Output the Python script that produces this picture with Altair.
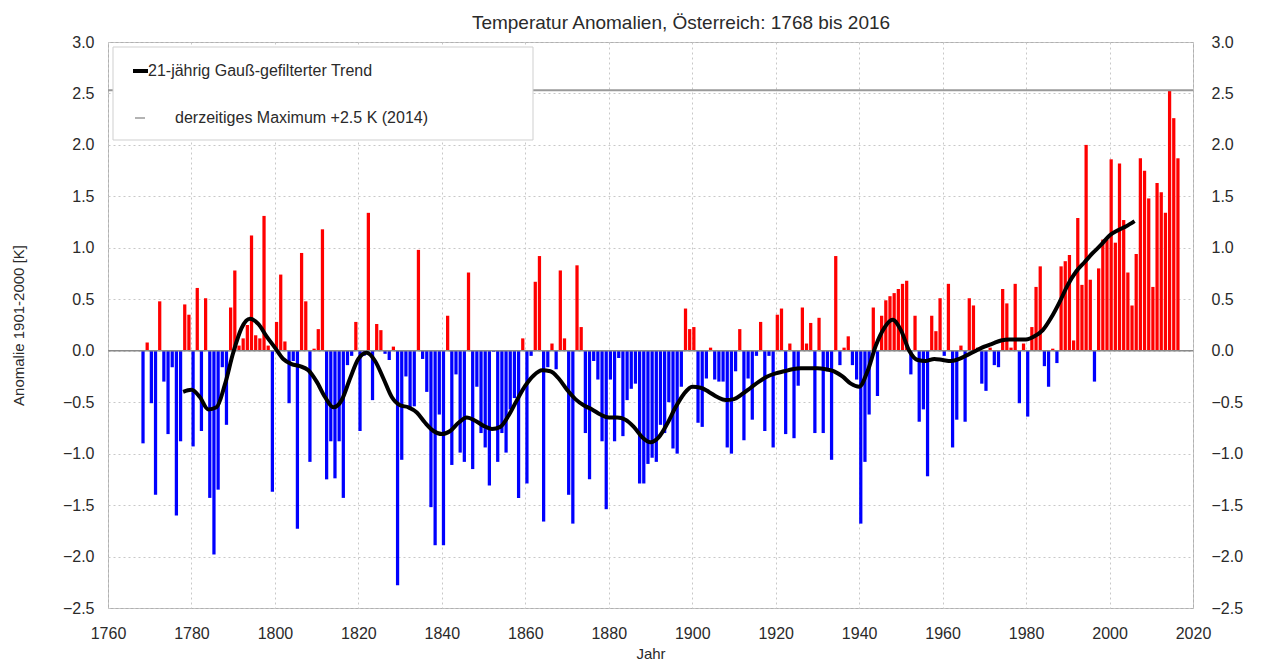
import altair as alt
import pandas as pd

# ---------------- data ----------------
years = list(range(1768, 2017))
anomaly = [
    -0.90, 0.08, -0.51, -1.40, 0.48, -0.30, -0.81, -0.16, -1.60, -0.88,   # 1768-1777
    0.45, 0.35, -0.93, 0.61, -0.78, 0.51, -1.43, -1.98, -1.35, -0.16,     # 1778-1787
    -0.72, 0.42, 0.78, 0.05, 0.12, 0.25, 1.12, 0.15, 0.12, 1.31,          # 1788-1797
    0.05, -1.37, 0.28, 0.74, 0.09, -0.51, -0.10, -1.73, 0.95, 0.48,       # 1798-1807
    -1.08, 0.02, 0.21, 1.18, -1.25, -0.88, -1.24, -0.88, -1.43, -0.14,    # 1808-1817
    -0.05, 0.28, -0.78, -0.05, 1.34, -0.48, 0.26, 0.20, -0.03, -0.09,     # 1818-1827
    0.04, -2.28, -1.06, -0.25, -0.57, -0.54, 0.98, -0.08, -0.40, -1.52,   # 1828-1837
    -1.89, -0.62, -1.89, 0.34, -1.11, -0.23, -0.99, -1.08, 0.76, -1.15,   # 1838-1847
    -0.35, -0.80, -0.94, -1.31, -0.01, -1.08, -0.80, -0.99, -0.57, -0.46, # 1848-1857
    -1.43, 0.12, -1.29, -0.05, 0.67, 0.92, -1.66, -0.16, 0.07, -0.18,     # 1858-1867
    0.78, 0.12, -1.40, -1.68, 0.83, 0.23, -0.80, -1.25, -0.10, -0.28,     # 1868-1877
    -0.88, -1.54, -0.28, -0.88, -0.07, -0.83, -0.48, -0.37, -0.32, -1.29, # 1878-1887
    -1.29, -1.10, -1.04, -1.08, -0.72, -0.80, -0.50, -0.95, -1.00, -0.35, # 1888-1897
    0.41, 0.21, 0.23, -0.70, -0.74, -0.27, 0.03, -0.28, -0.30, -0.30,     # 1898-1907
    -0.94, -1.00, -0.20, 0.21, -0.87, -0.27, -0.67, -0.05, 0.28, -0.78,   # 1908-1917
    -0.05, -0.94, 0.35, 0.41, -0.81, 0.07, -0.85, -0.34, 0.42, 0.07,      # 1918-1927
    0.27, -0.80, 0.32, -0.80, -0.20, -1.06, 0.92, -0.14, 0.03, 0.14,      # 1928-1937
    -0.14, -0.28, -1.68, -1.08, -0.62, 0.42, -0.44, 0.34, 0.49, 0.53,     # 1938-1947
    0.56, 0.60, 0.65, 0.68, -0.23, 0.34, -0.69, -0.57, -1.22, 0.34,       # 1948-1957
    0.19, 0.51, -0.05, 0.65, -0.94, -0.67, 0.05, -0.69, 0.51, 0.44,       # 1958-1967
    0.03, -0.32, -0.39, 0.03, -0.14, -0.16, 0.60, 0.46, 0.03, 0.65,       # 1968-1977
    -0.51, 0.07, -0.64, 0.23, 0.62, 0.82, -0.15, -0.35, 0.02, -0.12,      # 1978-1987
    0.82, 0.87, 0.93, 0.10, 1.29, 0.64, 2.00, 0.69, -0.30, 0.80,          # 1988-1997
    1.08, 1.08, 1.86, 1.05, 1.82, 1.27, 0.76, 0.44, 0.94, 1.87,           # 1998-2007
    1.75, 1.48, 0.62, 1.63, 1.54, 1.34, 2.53, 2.26, 1.87,                 # 2008-2016
]

trend_years = list(range(1778, 2007, 2))
trend_values = [
    -0.40, -0.38, -0.45, -0.57, -0.55, -0.33, -0.02, 0.22, 0.31, 0.26,    # 1778-1796
    0.14, 0.03, -0.08, -0.13, -0.15, -0.19, -0.30, -0.45, -0.55, -0.48,   # 1798-1816
    -0.27, -0.08, -0.02, -0.10, -0.27, -0.45, -0.53, -0.55, -0.60, -0.70, # 1818-1836
    -0.78, -0.81, -0.78, -0.70, -0.65, -0.68, -0.73, -0.76, -0.74, -0.63, # 1838-1856
    -0.48, -0.34, -0.24, -0.19, -0.20, -0.27, -0.38, -0.47, -0.53, -0.57, # 1858-1876
    -0.62, -0.65, -0.65, -0.67, -0.74, -0.84, -0.89, -0.84, -0.71, -0.55, # 1878-1896
    -0.42, -0.35, -0.36, -0.40, -0.45, -0.48, -0.47, -0.42, -0.36, -0.30, # 1898-1916
    -0.25, -0.22, -0.20, -0.18, -0.17, -0.17, -0.17, -0.18, -0.20, -0.25, # 1918-1936
    -0.32, -0.35, -0.20, 0.05, 0.22, 0.30, 0.20, 0.00, -0.09, -0.10,      # 1938-1956
    -0.08, -0.09, -0.10, -0.08, -0.04, 0.00, 0.04, 0.07, 0.10, 0.11,      # 1958-1976
    0.11, 0.11, 0.14, 0.20, 0.32, 0.47, 0.64, 0.77, 0.86, 0.95,           # 1978-1996
    1.03, 1.12, 1.17, 1.21, 1.26,                                         # 1998-2006
]

max_value = 2.53
x_ticks = list(range(1760, 2021, 20))
y_ticks = [-2.5, -2.0, -1.5, -1.0, -0.5, 0.0, 0.5, 1.0, 1.5, 2.0, 2.5, 3.0]

title_text = "Temperatur Anomalien, Österreich: 1768 bis 2016"
legend_labels = ["21-jährig Gauß-gefilterter Trend", "derzeitiges Maximum +2.5 K (2014)"]

# ---------------- frames ----------------
df = pd.DataFrame({"Jahr": years, "Anomalie": anomaly})
tr = pd.DataFrame({"Jahr": trend_years, "Trend": trend_values})
one = pd.DataFrame({"k": [0]})

W, H = 1085, 566
FONT = "Liberation Sans"
TXT = "#2a2a2a"

xscale = alt.Scale(domain=[1760, 2020], nice=False, zero=False)
yscale = alt.Scale(domain=[-2.5, 3.0], nice=False, zero=False)

x_axis = alt.Axis(values=x_ticks, format="d", title="Jahr", grid=True,
                  gridColor="#c8c8c8", gridDash=[2, 3], ticks=False, domain=False,
                  labelFontSize=16, labelFont=FONT, labelColor=TXT, labelPadding=17,
                  titleFontSize=15, titleFont=FONT, titleColor=TXT, titleFontWeight="normal",
                  titlePadding=5, labelFlush=False)

bars = alt.Chart(df).transform_calculate(
    Ende="datum.Jahr + 0.78",
    Vorzeichen="datum.Anomalie >= 0 ? 'pos' : 'neg'",
).mark_bar(strokeWidth=0).encode(
    x=alt.X("Jahr:Q", scale=xscale, axis=x_axis),
    x2="Ende:Q",
    y=alt.Y("Anomalie:Q", scale=yscale,
            axis=alt.Axis(orient="left", values=y_ticks, format=".1f",
                          title="Anomalie 1901-2000 [K]", grid=True,
                          gridColor="#c8c8c8", gridDash=[2, 3], ticks=False, domain=False,
                          labelFontSize=16, labelFont=FONT, labelColor=TXT, labelPadding=14,
                          titleFontSize=15, titleFont=FONT, titleColor=TXT,
                          titleFontWeight="normal", titlePadding=36, labelFlush=False)),
    y2=alt.datum(0),
    color=alt.Color("Vorzeichen:N", scale=alt.Scale(domain=["pos", "neg"],
                                                     range=["#ff0000", "#0000ff"]), legend=None),
)

zero = alt.Chart(pd.DataFrame({"v": [0.0]})).mark_rule(color="#8a8a8a", strokeWidth=1.5).encode(
    y=alt.Y("v:Q", scale=yscale,
            axis=alt.Axis(orient="right", values=y_ticks, format=".1f", title=None,
                          grid=False, ticks=False, domain=False, labelFontSize=16,
                          labelFont=FONT, labelColor=TXT, labelPadding=18, labelFlush=False)),
)

maxline = alt.Chart(pd.DataFrame({"v": [max_value]})).mark_rule(color="#9a9a9a", strokeWidth=2).encode(
    y=alt.Y("v:Q", scale=yscale, axis=None),
)

trend = alt.Chart(tr).mark_line(color="black", strokeWidth=4, interpolate="monotone").encode(
    x=alt.X("Jahr:Q", scale=xscale, axis=x_axis),
    y=alt.Y("Trend:Q", scale=yscale, axis=None),
)

legend_box = alt.Chart(one).mark_rect(fill="white", stroke="#cfcfcf", strokeWidth=1).encode(
    x=alt.value(5), x2=alt.value(425), y=alt.value(5), y2=alt.value(98))
leg_line1 = alt.Chart(one).mark_rule(color="black", strokeWidth=4).encode(
    x=alt.value(25), x2=alt.value(40), y=alt.value(29))
leg_line2 = alt.Chart(one).mark_rule(color="#9a9a9a", strokeWidth=1.5).encode(
    x=alt.value(27), x2=alt.value(37), y=alt.value(76))
leg_text1 = alt.Chart(one).mark_text(align="left", baseline="middle", fontSize=16, font=FONT,
                                     color=TXT, text=legend_labels[0]).encode(
    x=alt.value(40), y=alt.value(29))
leg_text2 = alt.Chart(one).mark_text(align="left", baseline="middle", fontSize=16, font=FONT,
                                     color=TXT, text=legend_labels[1]).encode(
    x=alt.value(67), y=alt.value(76))

title = alt.Chart(one).mark_text(align="center", baseline="middle", fontSize=19, font=FONT,
                                 color=TXT, text=title_text).encode(
    x=alt.value(573), y=alt.value(-19))

chart = alt.layer(
    bars, zero, maxline, trend, legend_box, leg_line1, leg_line2, leg_text1, leg_text2, title
).resolve_scale(y="independent").properties(
    width=W, height=H,
    autosize=alt.AutoSizeParams(type="none"),
    padding={"left": 100, "top": 34, "right": 60, "bottom": 62},
).configure_view(stroke="#b0b0b0", strokeWidth=1)

chart.save("out.html", embed_options={"renderer": "svg", "actions": False})
